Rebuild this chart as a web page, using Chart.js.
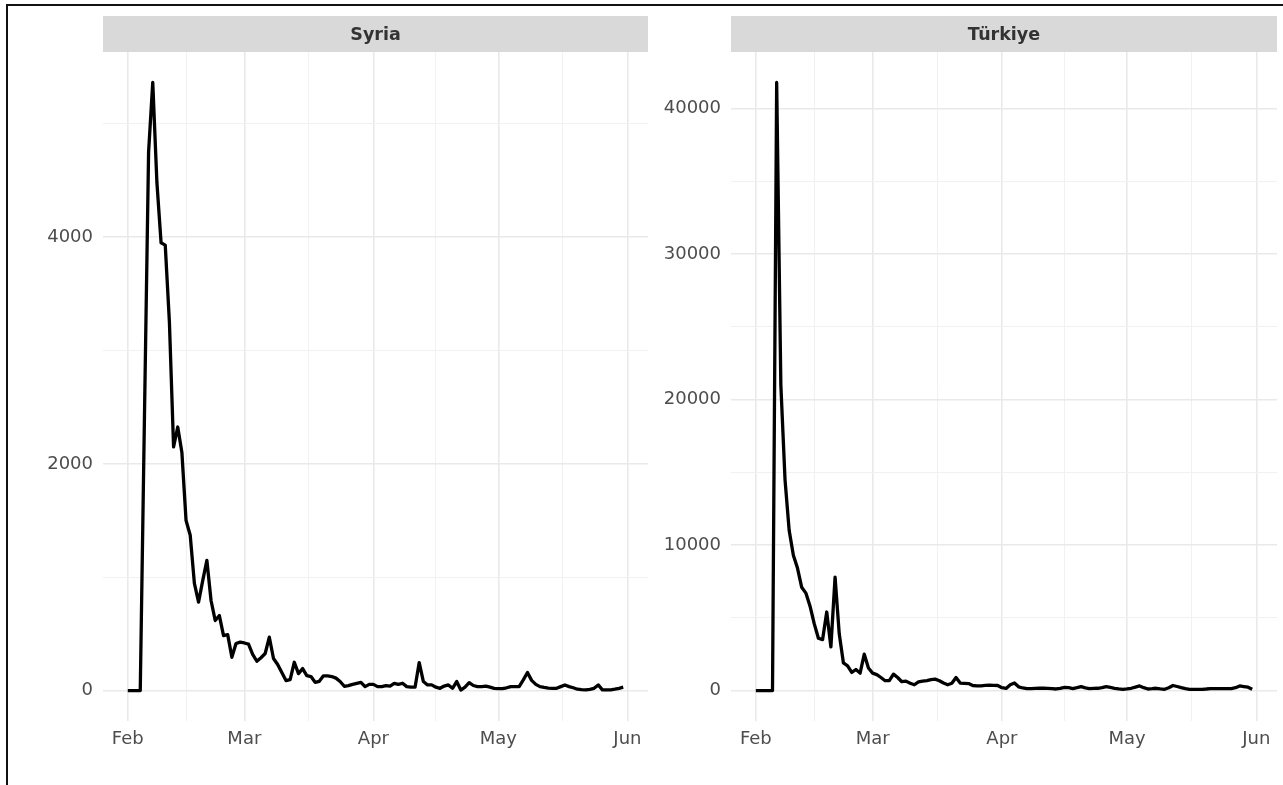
<!DOCTYPE html>
<html><head><meta charset="utf-8">
<script src="https://cdn.jsdelivr.net/npm/chart.js@4.4.1/dist/chart.umd.min.js"></script>
<style>
html,body{margin:0;padding:0;background:#fff;}
body{width:1283px;height:785px;position:relative;overflow:hidden;}
#frame{position:absolute;left:6px;top:4px;width:1300px;height:800px;border-top:2px solid #111;border-left:2px solid #111;}
.wrap{position:absolute;top:0;height:785px;}
#w1{left:0;width:655px;}
#w2{left:655px;width:628px;}
canvas{display:block;}
</style></head><body>
<div id="frame"></div>
<div class="wrap" id="w1"><canvas id="c1" width="655" height="785"></canvas></div>
<div class="wrap" id="w2"><canvas id="c2" width="628" height="785"></canvas></div>
<script>
// ---- Data (daily values, day 0 = 1 Feb) ----
const panelTitles = ['Syria', 'Türkiye'];
const syriaValues = [0,0,0,0,2400,4750,5365,4480,3950,3930,
  3250,2150,2325,2100,1500,1370,945,780,970,1148,
  795,618,662,485,494,294,415,427,420,410,
  320,259,290,327,471,283,230,160,88,97,
  250,150,194,132,124,73,82,130,130,124,
  110,80,38,44,55,64,73,35,55,55,
  35,35,44,40,64,55,65,35,30,30,
  247,80,50,50,30,20,40,50,20,80,
  5,30,70,45,35,35,40,30,20,18,
  18,25,35,35,35,95,160,90,55,35,
  28,22,20,20,35,50,35,25,12,8,
  6,10,20,50,6,6,6,12,20,30];
const turkiyeValues = [0,0,0,0,0,41800,21000,14500,11000,9300,
  8400,7100,6700,5800,4600,3600,3500,5400,3000,7800,
  3900,1900,1700,1250,1450,1200,2500,1550,1200,1100,
  900,680,680,1130,900,610,650,500,400,600,
  650,690,750,790,680,520,400,500,900,520,
  500,480,350,330,330,360,380,360,350,200,
  150,400,520,260,180,130,140,150,160,160,
  150,130,110,150,220,200,140,200,270,190,
  140,150,160,200,270,220,160,120,90,120,
  160,240,320,200,110,130,160,120,90,200,
  350,280,200,130,90,90,90,90,110,140,
  140,140,140,140,140,200,320,280,230,90];
const monthDays = [0, 28, 59, 89, 120];
const monthLabels = ['Feb', 'Mar', 'Apr', 'May', 'Jun'];
const minorDays = [14, 43.5, 74, 104.5];
const syriaYMajor = [0, 2000, 4000];
const syriaYMinor = [1000, 3000, 5000];
const turkiyeYMajor = [0, 10000, 20000, 30000, 40000];
const turkiyeYMinor = [5000, 15000, 25000, 35000];

const FONT = "'DejaVu Sans', sans-serif";

const stripPlugin = {
  id: 'strip',
  afterDraw(chart, args, opts) {
    const {ctx, chartArea} = chart;
    ctx.save();
    ctx.fillStyle = '#d9d9d9';
    ctx.fillRect(chartArea.left, chartArea.top - 36, chartArea.right - chartArea.left, 36);
    ctx.fillStyle = '#333333';
    ctx.font = "bold 17.5px " + FONT;
    ctx.textAlign = 'center';
    ctx.textBaseline = 'middle';
    ctx.fillText(opts.text, (chartArea.left + chartArea.right) / 2, chartArea.top - 17);
    ctx.restore();
  }
};

function makeChart(id, title, values, yMajor, yMinor, pad, yWidth) {
  const pts = values.map((v, i) => ({x: i, y: v}));
  const vmax = Math.max(...values), vmin = Math.min(...values);
  const ex = 0.05 * (vmax - vmin);
  const nDays = values.length - 1;
  const xex = 0.05 * nDays;
  const allY = yMajor.concat(yMinor).sort((a, b) => a - b);
  const allX = monthDays.concat(minorDays).sort((a, b) => a - b);
  return new Chart(document.getElementById(id), {
    type: 'line',
    data: {datasets: [{data: pts, borderColor: '#000', borderWidth: 3.3, pointRadius: 0,
      tension: 0, borderJoinStyle: 'round', fill: false}]},
    plugins: [stripPlugin],
    options: {
      responsive: false, animation: false, devicePixelRatio: 1,
      layout: {padding: pad},
      plugins: {legend: {display: false}, tooltip: {enabled: false}, strip: {text: title}},
      scales: {
        x: {
          type: 'linear', min: -xex, max: nDays + xex,
          afterBuildTicks: s => { s.ticks = allX.map(v => ({value: v})); },
          afterFit: s => { s.height = 44; s.paddingLeft = 0; s.paddingRight = 0; },
          border: {display: false},
          grid: {drawTicks: false,
            color: c => monthDays.includes(c.tick && c.tick.value) ? '#e9e9e9' : '#f1f1f1',
            lineWidth: c => monthDays.includes(c.tick && c.tick.value) ? 1.6 : 1},
          ticks: {autoSkip: false, maxRotation: 0, padding: 8, color: '#4d4d4d',
            font: {family: FONT, size: 18},
            callback: v => { const k = monthDays.indexOf(v); return k >= 0 ? monthLabels[k] : ''; }}
        },
        y: {
          type: 'linear', min: vmin - ex, max: vmax + ex,
          afterBuildTicks: s => { s.ticks = allY.map(v => ({value: v})); },
          afterFit: s => { s.width = yWidth; s.paddingTop = 0; s.paddingBottom = 0; },
          border: {display: false},
          grid: {drawTicks: false,
            color: c => yMajor.includes(c.tick && c.tick.value) ? '#e9e9e9' : '#f1f1f1',
            lineWidth: c => yMajor.includes(c.tick && c.tick.value) ? 1.6 : 1},
          ticks: {autoSkip: false, padding: 10, color: '#4d4d4d',
            font: {family: FONT, size: 18},
            callback: v => yMajor.includes(v) ? String(v) : ''}
        }
      }
    }
  });
}

makeChart('c1', panelTitles[0], syriaValues, syriaYMajor, syriaYMinor,
  {left: 10, top: 52, right: 7, bottom: 20}, 93);
makeChart('c2', panelTitles[1], turkiyeValues, turkiyeYMajor, turkiyeYMinor,
  {left: 0, top: 52, right: 6, bottom: 20}, 76);
</script>
</body></html>
